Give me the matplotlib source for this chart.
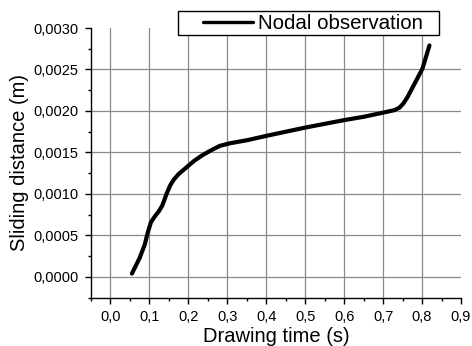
import matplotlib
matplotlib.use("Agg")
import matplotlib.pyplot as plt
from matplotlib.ticker import FixedLocator, FixedFormatter, MultipleLocator
from matplotlib.patches import Rectangle

plt.rcParams['font.family'] = ['Liberation Sans', 'DejaVu Sans']

# Data
time_s = [0.055, 0.075, 0.088, 0.096, 0.104, 0.114, 0.124, 0.133, 0.144, 0.153,
          0.162, 0.175, 0.195, 0.215, 0.237, 0.260, 0.281, 0.306, 0.353, 0.40,
          0.50, 0.60, 0.65, 0.70, 0.729, 0.742, 0.752, 0.763, 0.801, 0.819]
sliding_m = [0.00004, 0.00023, 0.00039, 0.00054, 0.00066, 0.00073, 0.00079, 0.00086,
             0.00100, 0.00110, 0.00117, 0.00124, 0.00132, 0.00140, 0.00147, 0.00153,
             0.00158, 0.00161, 0.00165, 0.00170, 0.00180, 0.00189, 0.00193, 0.00198,
             0.00201, 0.00204, 0.00209, 0.00217, 0.00251, 0.00279]

x_ticks = [0.0, 0.1, 0.2, 0.3, 0.4, 0.5, 0.6, 0.7, 0.8, 0.9]
x_tick_labels = ['0,0', '0,1', '0,2', '0,3', '0,4', '0,5', '0,6', '0,7', '0,8', '0,9']
y_ticks = [0.0, 0.0005, 0.0010, 0.0015, 0.0020, 0.0025, 0.0030]
y_tick_labels = ['0,0000', '0,0005', '0,0010', '0,0015', '0,0020', '0,0025', '0,0030']

W, H = 472, 346
fig = plt.figure(figsize=(W/100, H/100), dpi=100)
ax = fig.add_axes([91/W, 1-297.7/H, (461-91)/W, (297.7-28)/H])

# grid lines (major only, excluding the top / right edges)
for xv in x_ticks[:-1]:
    ax.axvline(xv, color='#8a8a8a', lw=0.9, zorder=0)
for yv in y_ticks[:-1]:
    ax.axhline(yv, color='#8a8a8a', lw=0.9, zorder=0)

ax.plot(time_s, sliding_m, color='black', lw=3.0, solid_capstyle='round',
        solid_joinstyle='round', label='Nodal observation', zorder=3)

ax.set_xlim(-0.05, 0.9)
ax.set_ylim(-0.00025, 0.0030)

ax.xaxis.set_major_locator(FixedLocator(x_ticks))
ax.xaxis.set_major_formatter(FixedFormatter(x_tick_labels))
ax.yaxis.set_major_locator(FixedLocator(y_ticks))
ax.yaxis.set_major_formatter(FixedFormatter(y_tick_labels))
ax.xaxis.set_minor_locator(MultipleLocator(0.05))
ax.yaxis.set_minor_locator(MultipleLocator(0.00025))

ax.spines['top'].set_visible(False)
ax.spines['right'].set_visible(False)
ax.spines['left'].set_linewidth(1.0)
ax.spines['bottom'].set_linewidth(1.0)

ax.tick_params(which='major', direction='out', length=4, width=1.0,
               labelsize=10.5, colors='black', pad=5)
ax.tick_params(which='minor', direction='out', length=2.5, width=1.0)

ax.set_xlabel('Drawing time (s)', fontsize=14.5, labelpad=2)
ax.set_ylabel('Sliding distance (m)', fontsize=14.5, labelpad=3)

# legend box
fig.patches.append(Rectangle((178/W, 1-35/H), (438.7-178)/W, (35-11)/H,
                             transform=fig.transFigure, facecolor='white',
                             edgecolor='black', lw=1.0, zorder=5))
leg = fig.legend(loc='center left', bbox_to_anchor=(203/W, 1-23.5/H),
                 fontsize=14.8, frameon=False, handlelength=2.45,
                 borderpad=0, handletextpad=0.25, borderaxespad=0)
leg.set_zorder(6)
for ln in leg.get_lines():
    ln.set_linewidth(2.4)

fig.savefig('out.png', dpi=100)
